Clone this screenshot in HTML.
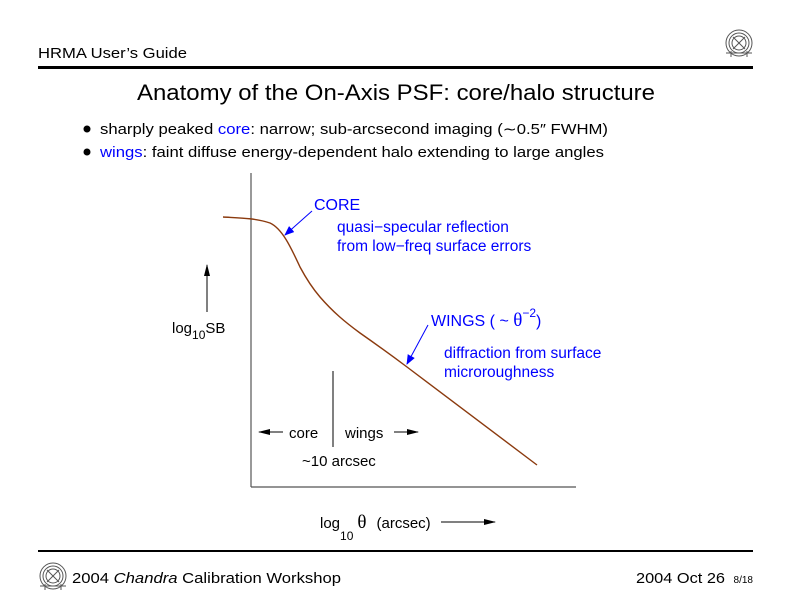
<!DOCTYPE html>
<html><head><meta charset="utf-8"><style>
html,body{margin:0;padding:0;background:#fff;}
svg{display:block;font-family:"Liberation Sans",sans-serif;}
</style></head><body>
<svg width="792" height="612" viewBox="0 0 792 612" xmlns="http://www.w3.org/2000/svg">
<defs>
<marker id="ab" markerWidth="10" markerHeight="8" refX="9" refY="4" orient="auto" markerUnits="userSpaceOnUse"><path d="M0,0 L10,4 L0,8 Z" fill="#0000ff"/></marker>
<marker id="ak" markerWidth="12" markerHeight="6" refX="11" refY="3" orient="auto" markerUnits="userSpaceOnUse"><path d="M0,0 L12,3 L0,6 Z" fill="#000"/></marker>
<g id="logo" fill="none" stroke="#555" stroke-width="1"><circle r="13"/><circle r="10"/><circle r="7"/><line x1="-6" y1="-6" x2="6" y2="6"/><line x1="-6" y1="6" x2="6" y2="-6"/><line x1="-13" y1="10" x2="13" y2="10"/><line x1="-8" y1="8" x2="-8" y2="14"/><line x1="8" y1="8" x2="8" y2="14"/></g>
</defs>
<text x="38" y="58" font-size="15" textLength="149" lengthAdjust="spacingAndGlyphs">HRMA User’s Guide</text>
<use href="#logo" x="739" y="43"/>
<rect x="38" y="66" width="715" height="3" fill="#000"/>
<text x="137" y="100" font-size="22" textLength="518" lengthAdjust="spacingAndGlyphs">Anatomy of the On-Axis PSF: core/halo structure</text>
<circle cx="87" cy="129" r="3.5" fill="#000"/>
<text x="100" y="134" font-size="14.5" textLength="508" lengthAdjust="spacingAndGlyphs">sharply peaked <tspan fill="#0000ff">core</tspan>: narrow; sub-arcsecond imaging (∼0.5″ FWHM)</text>
<circle cx="87" cy="152" r="3.5" fill="#000"/>
<text x="100" y="157" font-size="14.5" textLength="504" lengthAdjust="spacingAndGlyphs"><tspan fill="#0000ff">wings</tspan>: faint diffuse energy-dependent halo extending to large angles</text>

<line x1="251" y1="173" x2="251" y2="487" stroke="#333" stroke-width="1"/>
<line x1="251" y1="487" x2="576" y2="487" stroke="#555" stroke-width="1.2"/>
<path d="M223,217 C240,218 255,218 270,223 C283,229 292,250 300,267 C308,282 314,290 320,297 C333,312 345,322 360,333 C380,347 395,358 407,367 L537,465" fill="none" stroke="#8b3a0e" stroke-width="1.4"/>

<g fill="#0000ff" font-size="15.5">
<text x="314" y="210" font-size="16">CORE</text>
<text x="337" y="232">quasi−specular reflection</text>
<text x="337" y="251">from low−freq surface errors</text>
<text x="431" y="326" font-size="16">WINGS ( ~ <tspan font-family="Liberation Serif,serif" font-size="19">θ</tspan><tspan dy="-9" font-size="12">−2</tspan><tspan dy="9">)</tspan></text>
<text x="444" y="358">diffraction from surface</text>
<text x="444" y="377">microroughness</text>
</g>
<line x1="312" y1="211" x2="285" y2="235" stroke="#0000ff" stroke-width="1" marker-end="url(#ab)"/>
<line x1="428" y1="325" x2="407" y2="364" stroke="#0000ff" stroke-width="1" marker-end="url(#ab)"/>

<text x="172" y="333" font-size="15">log<tspan dy="6" font-size="12">10</tspan><tspan dy="-6">SB</tspan></text>
<line x1="207" y1="312" x2="207" y2="265" stroke="#000" stroke-width="1" marker-end="url(#ak)"/>
<line x1="333" y1="371" x2="333" y2="447" stroke="#000" stroke-width="1"/>
<line x1="283" y1="432" x2="259" y2="432" stroke="#000" stroke-width="1" marker-end="url(#ak)"/>
<text x="289" y="438" font-size="15">core</text>
<text x="345" y="438" font-size="15">wings</text>
<line x1="394" y1="432" x2="418" y2="432" stroke="#000" stroke-width="1" marker-end="url(#ak)"/>
<text x="302" y="466" font-size="15">~10 arcsec</text>
<text x="320" y="528" font-size="15">log<tspan dy="12" font-size="12">10</tspan><tspan dy="-12" dx="4" font-family="Liberation Serif,serif" font-size="19">θ</tspan><tspan dx="10">(arcsec)</tspan></text>
<line x1="441" y1="522" x2="495" y2="522" stroke="#000" stroke-width="1" marker-end="url(#ak)"/>

<rect x="38" y="550" width="715" height="2" fill="#000"/>
<use href="#logo" x="53" y="576"/>
<text x="72" y="583" font-size="15" textLength="269" lengthAdjust="spacingAndGlyphs">2004 <tspan font-style="italic">Chandra</tspan> Calibration Workshop</text>
<text x="636" y="583" font-size="15" textLength="89" lengthAdjust="spacingAndGlyphs">2004 Oct 26</text>
<text x="753" y="583" font-size="10" text-anchor="end">8/18</text>
</svg>
</body></html>
